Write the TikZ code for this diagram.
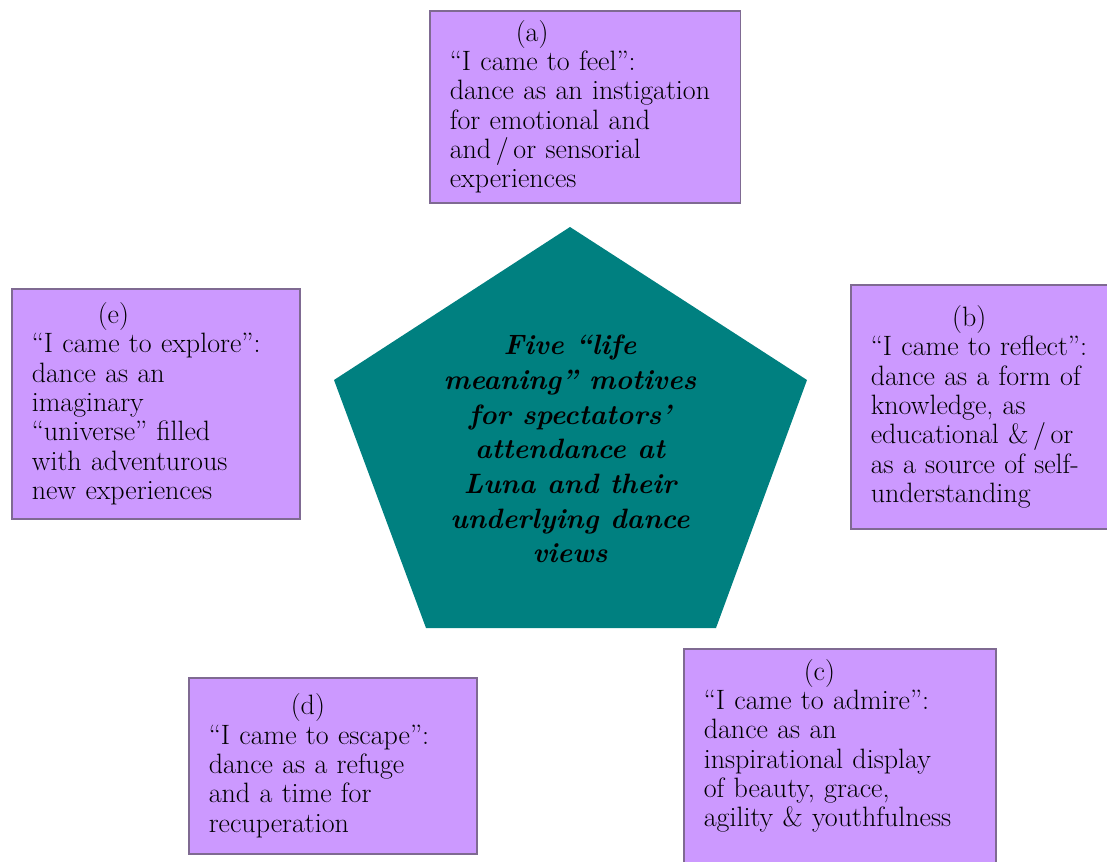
\documentclass[tikz,border=0pt]{standalone}
\usepackage{fontspec}
\definecolor{boxfill}{HTML}{CC99FF}
\definecolor{boxline}{HTML}{7F6A92}
\definecolor{pentfill}{HTML}{008080}
\tikzset{
  motive/.style={draw=boxline, fill=boxfill, line width=1.2pt, anchor=north west,
    align=left, inner xsep=15pt, inner ysep=0pt,
    font=\fontsize{21}{22}\selectfont},
  centre/.style={align=center, font=\fontsize{21}{26}\selectfont\bfseries\itshape}
}
\begin{document}
\begin{tikzpicture}[x=0.75pt,y=-0.75pt]
\useasboundingbox (0,0) rectangle (1107,861);
\clip (0,0) rectangle (1107,861);
% centre pentagon
\coordinate (top) at (570,227);
\coordinate (rgt) at (807,380);
\coordinate (brt) at (716,628);
\coordinate (blf) at (426,628);
\coordinate (lft) at (334,380);
\fill[pentfill] (top) -- (rgt) -- (brt) -- (blf) -- (lft) -- cycle;
\node[centre] (views) at (570,449) {Five ``life\\ meaning'' motives\\ for spectators'\\ attendance at\\ Luna and their\\ underlying dance\\ views};
% the five motives
\node[motive, text width=203pt, minimum height=144pt] (feel) at (429,10)
  {\hspace*{49.5pt}(a)\\ ``I came to feel'':\\ dance as an instigation\\ for emotional and\\ and\,/\,or sensorial\\ experiences};
\node[motive, text width=173pt, minimum height=183pt] (reflect) at (850,284)
  {\hspace*{61pt}(b)\\ ``I came to reflect'':\\ dance as a form of\\ knowledge, as\\ educational \&\,/\,or\\ as a source of self-\\ understanding};
\node[motive, text width=204pt, minimum height=163.5pt] (admire) at (683,648)
  {\hspace*{75pt}(c)\\ ``I came to admire'':\\ dance as an\\ inspirational display\\ of beauty, grace,\\ agility \& youthfulness\\ \mbox{}};
\node[motive, text width=186pt, minimum height=132pt] (escape) at (188,677)
  {\hspace*{61.5pt}(d)\\ ``I came to escape'':\\ dance as a refuge\\ and a time for\\ recuperation};
\node[motive, text width=186pt, minimum height=172.5pt] (explore) at (11,288)
  {\hspace*{49.5pt}(e)\\ ``I came to explore'':\\ dance as an\\ imaginary\\ ``universe'' filled\\ with adventurous\\ new experiences};
\end{tikzpicture}
\end{document}
